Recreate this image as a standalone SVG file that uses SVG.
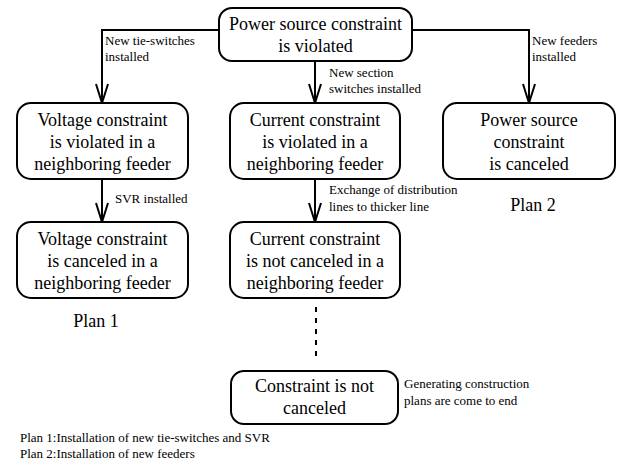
<svg xmlns="http://www.w3.org/2000/svg" width="623" height="474" viewBox="0 0 623 474">
<style>
.box{fill:#fff;stroke:#000;stroke-width:2}
.t{font-family:"Liberation Serif","Times New Roman",serif;font-size:18px;fill:#000;text-anchor:middle}
.s{font-family:"Liberation Serif","Times New Roman",serif;font-size:13px;fill:#000}
.c{fill:none;stroke:#000;stroke-width:2}
.d{fill:none;stroke:#000;stroke-width:2;stroke-dasharray:5 6}
</style>
<defs>
<marker id="arr" markerUnits="userSpaceOnUse" markerWidth="22" markerHeight="14" refX="20" refY="7" orient="auto" viewBox="0 0 22 14">
<path d="M1,1 L20,7 L1,13" fill="none" stroke="#000" stroke-width="2"/>
</marker>
</defs>
<rect width="623" height="474" fill="#fff"/>
<g id="connectors">
<path class="c" d="M219,30 H102 V103" marker-end="url(#arr)"/>
<path class="c" d="M412,30 H529 V103" marker-end="url(#arr)"/>
<path class="c" d="M315,61 V103" marker-end="url(#arr)"/>
<path class="c" d="M102,179 V222" marker-end="url(#arr)"/>
<path class="c" d="M315,179 V222" marker-end="url(#arr)"/>
<path class="d" d="M316,307 V357"/>
<text class="s" x="105" y="45">New tie-switches</text>
<text class="s" x="105" y="61">installed</text>
<text class="s" x="329" y="77">New section</text>
<text class="s" x="329" y="93">switches installed</text>
<text class="s" x="532" y="45">New feeders</text>
<text class="s" x="532" y="61">installed</text>
<text class="s" x="115" y="203">SVR installed</text>
<text class="s" x="329" y="194">Exchange of distribution</text>
<text class="s" x="329" y="211">lines to thicker line</text>
</g>
<g id="n-top">
<rect class="box" x="219" y="8" width="193" height="53" rx="13"/>
<text class="t" x="315.5" y="30">Power source constraint</text>
<text class="t" x="315.5" y="52">is violated</text>
</g>
<g id="n-volt-viol">
<rect class="box" x="17" y="103" width="171" height="76" rx="14"/>
<text class="t" x="102.5" y="126">Voltage constraint</text>
<text class="t" x="102.5" y="148">is violated in a</text>
<text class="t" x="102.5" y="170">neighboring feeder</text>
</g>
<g id="n-curr-viol">
<rect class="box" x="230" y="103" width="170" height="76" rx="14"/>
<text class="t" x="315" y="126">Current constraint</text>
<text class="t" x="315" y="148">is violated in a</text>
<text class="t" x="315" y="170">neighboring feeder</text>
</g>
<g id="n-power-canc">
<rect class="box" x="443" y="103" width="172" height="76" rx="14"/>
<text class="t" x="529" y="126">Power source</text>
<text class="t" x="529" y="148">constraint</text>
<text class="t" x="529" y="170">is canceled</text>
</g>
<g id="n-volt-canc">
<rect class="box" x="17" y="222" width="171" height="76" rx="14"/>
<text class="t" x="102.5" y="245">Voltage constraint</text>
<text class="t" x="102.5" y="267">is canceled in a</text>
<text class="t" x="102.5" y="289">neighboring feeder</text>
</g>
<g id="n-curr-notcanc">
<rect class="box" x="230" y="222" width="170" height="76" rx="14"/>
<text class="t" x="315" y="245">Current constraint</text>
<text class="t" x="315" y="267">is not canceled in a</text>
<text class="t" x="315" y="289">neighboring feeder</text>
</g>
<g id="n-end">
<rect class="box" x="231" y="371" width="167" height="53" rx="13"/>
<text class="t" x="314.5" y="392">Constraint is not</text>
<text class="t" x="314.5" y="414">canceled</text>
<text class="s" x="404" y="388">Generating construction</text>
<text class="s" x="404" y="405">plans are come to end</text>
</g>
<g id="labels">
<text class="t" x="96" y="327">Plan 1</text>
<text class="t" x="533" y="211">Plan 2</text>
<text class="s" x="20" y="442">Plan 1:Installation of new tie-switches and SVR</text>
<text class="s" x="20" y="458">Plan 2:Installation of new feeders</text>
</g>
</svg>
